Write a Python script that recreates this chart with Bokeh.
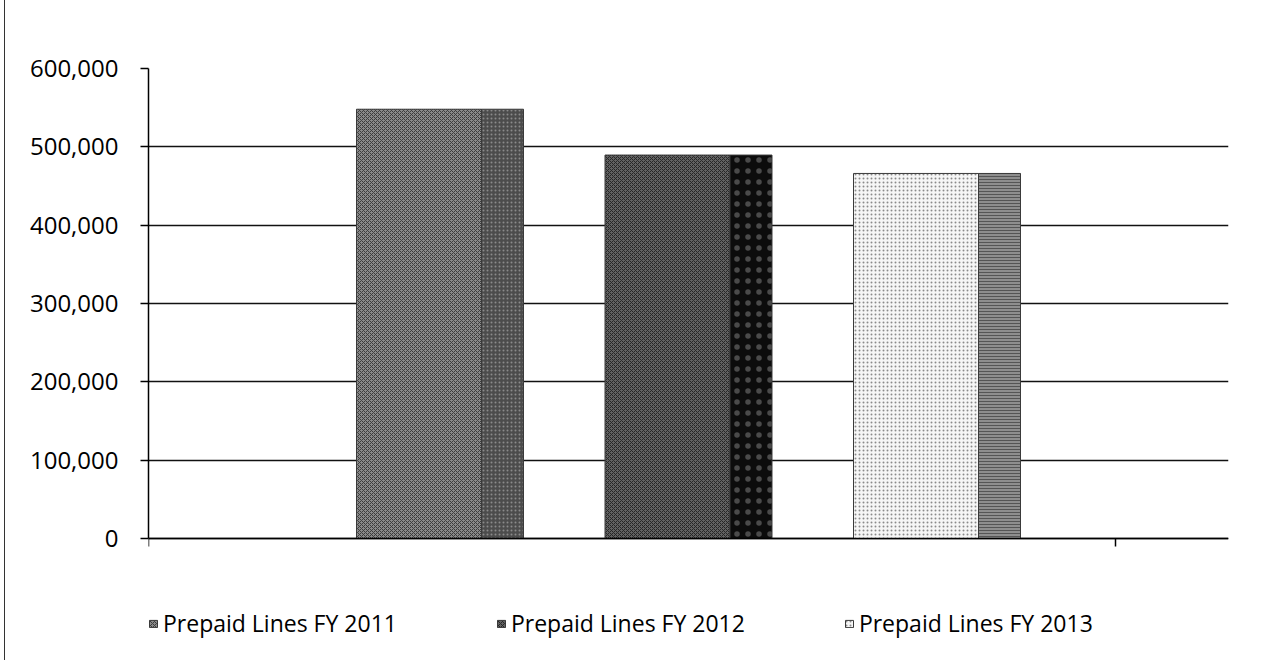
from bokeh.plotting import figure
from bokeh.models import Range1d, FixedTicker, NumeralTickFormatter, Legend, LegendItem
from bokeh.embed import file_html
from bokeh.resources import INLINE

# ---- data ----
series = ["Prepaid Lines FY 2011", "Prepaid Lines FY 2012", "Prepaid Lines FY 2013"]
values = [548000, 489500, 466000]
y_ticks = [0, 100000, 200000, 300000, 400000, 500000, 600000]

# ---- styles ----
front_fill = ["#8a8a8a", "#626262", "#f6f6f6"]
front_hatch = ["diagonal_cross", "diagonal_cross", "dot"]
front_hatch_color = ["#3c3c3c", "#262626", "#8a8a8a"]
front_hatch_scale = [4, 4, 4]
side_fill = ["#4c4c4c", "#0c0c0c", "#8e8e8e"]
side_hatch = ["dot", "dot", "horizontal_line"]
side_hatch_color = ["#8a8a8a", "#4a4a4a", "#555555"]
side_hatch_scale = [4, 11, 3]

FRAME_W = 1080
PX_DATA = 470          # pixels between 0 and the top tick
PX_BELOW = 118         # frame extension below 0 (room for legend)
y_top = y_ticks[-1]
y_bottom = -y_top * PX_BELOW / PX_DATA
first_left = 208
step = 248.5
front_w = 125
side_w = 42

p = figure(frame_width=FRAME_W, frame_height=PX_DATA + PX_BELOW,
           output_backend="svg", toolbar_location=None,
           x_range=Range1d(0, FRAME_W), y_range=Range1d(y_bottom, y_top),
           min_border_left=143, min_border_right=30, min_border_top=68, min_border_bottom=4)
p.outline_line_color = None
p.background_fill_color = "white"
p.border_fill_color = "white"
p.styles = {"border-left": "1px solid #333333", "margin-left": "4px"}

# y axis
p.yaxis.ticker = FixedTicker(ticks=y_ticks)
p.yaxis.bounds = (y_ticks[0], y_ticks[-1])
p.yaxis.formatter = NumeralTickFormatter(format="0,0")
p.yaxis.major_label_text_font = "Open Sans"
p.yaxis.major_label_text_font_size = "24px"
p.yaxis.major_label_text_color = "black"
p.yaxis.major_tick_out = 8
p.yaxis.major_tick_in = 0
p.yaxis.minor_tick_line_color = None
p.yaxis.major_label_standoff = 22
p.yaxis.axis_line_color = "black"
p.yaxis.axis_line_width = 1.5
p.yaxis.major_tick_line_color = "black"
p.yaxis.major_tick_line_width = 1.5

# x axis (ticks only), sitting on the zero line
p.xaxis.fixed_location = 0
p.xaxis.ticker = FixedTicker(ticks=[0, 967])
p.xaxis.major_label_text_alpha = 0
p.xaxis.major_label_text_font_size = "1px"
p.xaxis.major_label_standoff = 0
p.xaxis.major_tick_out = 8
p.xaxis.major_tick_in = 0
p.xaxis.minor_tick_line_color = None
p.xaxis.axis_line_color = "black"
p.xaxis.axis_line_width = 1.5
p.xaxis.major_tick_line_color = "black"
p.xaxis.major_tick_line_width = 1.5

p.xgrid.grid_line_color = None
p.ygrid.ticker = FixedTicker(ticks=y_ticks)
p.ygrid.grid_line_color = "#111111"
p.ygrid.grid_line_width = 1.7

fronts = []
for i, v in enumerate(values):
    left = first_left + step * i
    r = p.quad(left=[left], right=[left + front_w], bottom=[0], top=[v],
               fill_color=front_fill[i], hatch_pattern=front_hatch[i],
               hatch_color=front_hatch_color[i], hatch_scale=front_hatch_scale[i],
               hatch_weight=1, line_color="#3a3a3a", line_width=1)
    p.quad(left=[left + front_w], right=[left + front_w + side_w], bottom=[0], top=[v],
           fill_color=side_fill[i], hatch_pattern=side_hatch[i],
           hatch_color=side_hatch_color[i], hatch_scale=side_hatch_scale[i],
           hatch_weight=1, line_color="#3a3a3a", line_width=1)
    fronts.append(r)

lg = Legend(items=[LegendItem(label=name, renderers=[fronts[i]]) for i, name in enumerate(series)],
            location=(0, 17), orientation="horizontal", spacing=99,
            glyph_width=10, glyph_height=9, label_standoff=5, label_height=24,
            label_text_font="Open Sans", label_text_font_size="23px",
            label_text_color="black", padding=0, margin=0,
            border_line_alpha=0, background_fill_alpha=0)
p.add_layout(lg, "center")

open("out.html", "w").write(file_html(p, INLINE))
